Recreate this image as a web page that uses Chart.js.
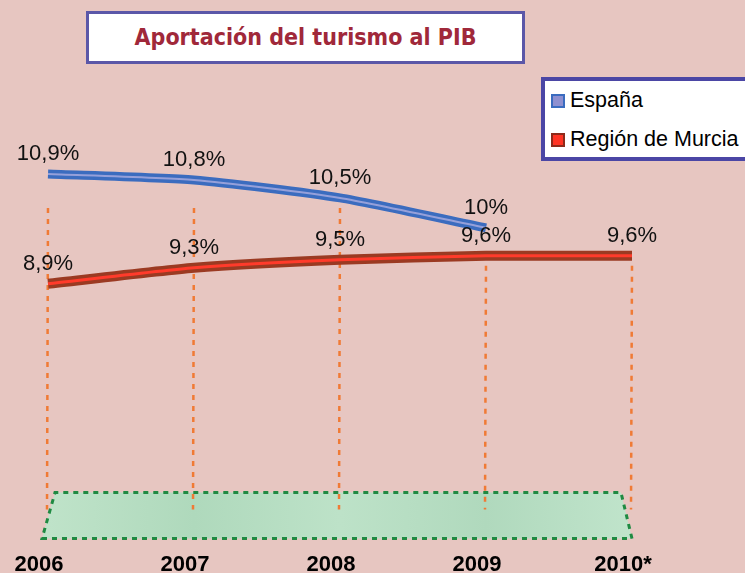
<!DOCTYPE html>
<html lang="es">
<head>
<meta charset="utf-8">
<title>Aportación del turismo al PIB</title>
<script src="https://cdn.jsdelivr.net/npm/chart.js@4.4.1/dist/chart.umd.min.js"></script>
<style>
  html, body { margin: 0; padding: 0; overflow: hidden; background: #e7c6c1; }
  #wrap { position: relative; width: 745px; height: 591px; }
  #titulo {
    position: absolute; left: 86px; top: 11px; width: 433px; height: 47px;
    border: 3px solid #5b57a8; background: #fff; color: #a0283a;
    font: bold 23px "DejaVu Sans Condensed", "DejaVu Sans", sans-serif;
    text-align: center; line-height: 47px; z-index: 2;
  }
  #leyenda {
    position: absolute; left: 541px; top: 77px; width: 220px; height: 76px;
    border: 4px solid #4b46a5; background: #fff; z-index: 2;
    font: 21.5px "Liberation Sans", Arial, sans-serif; color: #000;
  }
  .item { position: absolute; left: 6px; height: 24px; line-height: 24px; white-space: nowrap; }
  .item span.cuadro { display: inline-block; width: 10px; height: 10px; border: 2px solid; vertical-align: -1px; margin-right: 5px; }
</style>
</head>
<body>
<div id="wrap">
  <div id="titulo">Aportación del turismo al PIB</div>
  <div id="leyenda">
    <div class="item" style="top:7px"><span class="cuadro" style="background:#8f90d0;border-color:#3b6cbf"></span>España</div>
    <div class="item" style="top:46px"><span class="cuadro" style="background:#ff3424;border-color:#8e2a1a"></span>Región de Murcia</div>
  </div>
  <canvas id="grafico"></canvas>
</div>
<script>
// datos
const anios = ['2006', '2007', '2008', '2009', '2010*'];
const espana = [10.9, 10.8, 10.5, 10.0, null];
const murcia = [8.9, 9.3, 9.5, 9.6, 9.6];

function formatoPct(v) {
    return String(v).replace('.', ',') + '%';
}

// suelo verde + lineas de caida naranjas + etiquetas
const decoracion = {
    id: 'decoracion',
    beforeDatasetsDraw(chart) {
        const { ctx, chartArea } = chart;
        const { left, right, bottom } = chartArea;
        const top = bottom - 47;

        ctx.save();
        // suelo
        ctx.beginPath();
        ctx.moveTo(left - 6, bottom - 1);
        ctx.lineTo(right, bottom - 1);
        ctx.lineTo(right - 11, top);
        ctx.lineTo(left + 7, top);
        ctx.closePath();
        const grad = ctx.createLinearGradient(left, 0, right, 0);
        grad.addColorStop(0, '#bfe3c9');
        grad.addColorStop(0.25, '#afd9bc');
        grad.addColorStop(0.5, '#bde2c8');
        grad.addColorStop(0.75, '#b0d9bd');
        grad.addColorStop(1, '#c0e4cb');
        ctx.fillStyle = grad;
        ctx.fill();
        ctx.setLineDash([5, 5]);
        ctx.lineWidth = 3;
        ctx.strokeStyle = '#1f8a42';
        ctx.stroke();

        // lineas de caida
        const metaE = chart.getDatasetMeta(0);
        const metaM = chart.getDatasetMeta(2);
        ctx.setLineDash([5, 6]);
        ctx.lineWidth = 2.5;
        ctx.strokeStyle = '#f07a35';
        const limite = chartArea.top + 108;
        anios.forEach((a, i) => {
            const x = chart.scales.x.getPixelForValue(i);
            const pe = metaE.data[i];
            const pm = metaM.data[i];
            let y0;
            if (espana[i] != null && pe.y < limite) y0 = limite;
            else y0 = pm.y + 10;
            ctx.beginPath();
            ctx.moveTo(x, y0);
            ctx.lineTo(x - 1, top + 17);
            ctx.stroke();
        });
        ctx.restore();
    },
    afterDatasetsDraw(chart) {
        const { ctx } = chart;
        ctx.save();
        ctx.font = '22px "Liberation Sans", Arial, sans-serif';
        ctx.fillStyle = '#111';
        ctx.textAlign = 'center';
        ctx.textBaseline = 'alphabetic';
        [[0, espana], [2, murcia]].forEach(([idx, serie]) => {
            const meta = chart.getDatasetMeta(idx);
            serie.forEach((v, i) => {
                if (v == null) return;
                const p = meta.data[i];
                ctx.fillText(formatoPct(v), p.x, p.y - 14);
            });
        });
        ctx.restore();
    }
};

const ctx = document.getElementById('grafico').getContext('2d');
new Chart(ctx, {
    type: 'line',
    data: {
        labels: anios,
        datasets: [
            { label: 'España', data: espana, yAxisID: 'yEsp', borderColor: '#3b6cbf', borderWidth: 9, order: 4 },
            { label: 'España', data: espana, yAxisID: 'yEsp', borderColor: '#95a0da', borderWidth: 2, order: 3 },
            { label: 'Región de Murcia', data: murcia, yAxisID: 'yMur', borderColor: '#9b3a22', borderWidth: 10, order: 2 },
            { label: 'Región de Murcia', data: murcia, yAxisID: 'yMur', borderColor: '#ff3b2b', borderWidth: 3, order: 1 }
        ]
    },
    options: {
        responsive: true,
        maintainAspectRatio: false,
        animation: false,
        layout: { padding: { left: 48, right: 113, top: 100, bottom: 0 } },
        elements: {
            point: { radius: 0, hoverRadius: 0 },
            line: { tension: 0.2, borderCapStyle: 'butt', fill: false }
        },
        scales: {
            x: {
                grid: { display: false, drawTicks: false },
                border: { display: false },
                ticks: {
                    color: '#000',
                    font: { family: '"Liberation Sans", Arial, sans-serif', size: 22, weight: 'bold' },
                    padding: 12.5,
                    labelOffset: -9,
                    maxRotation: 0,
                    autoSkip: false
                }
            },
            yEsp: { display: false, min: 4.8, max: 12.1333 },
            yMur: { display: false, min: 2.5, max: 13.5 }
        },
        plugins: {
            legend: { display: false },
            tooltip: { enabled: false }
        }
    },
    plugins: [decoracion]
});
</script>
</body>
</html>
